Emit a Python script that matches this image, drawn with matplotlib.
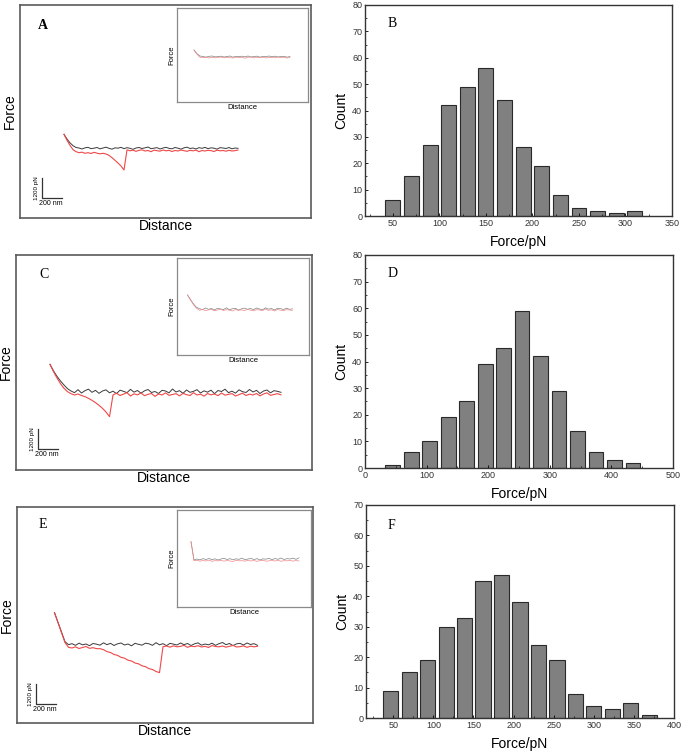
import numpy as np
import matplotlib
matplotlib.use("Agg")
import matplotlib.pyplot as plt
from matplotlib.ticker import MultipleLocator

plt.rcParams['font.family'] = ['Liberation Sans', 'DejaVu Sans']

W, H = 685, 754

# ---- histogram data (bin centre in pN, count) ----
b_centers = [50, 70, 90, 110, 130, 150, 170, 190, 210, 230, 250, 270, 290, 310]
b_counts = [6, 15, 27, 42, 49, 56, 44, 26, 19, 8, 3, 2, 1, 2]
d_centers = [45, 75, 105, 135, 165, 195, 225, 255, 285, 315, 345, 375, 405, 435]
d_counts = [1, 6, 10, 19, 25, 39, 45, 59, 42, 29, 14, 6, 3, 2]
f_centers = [47, 70, 93, 116, 139, 162, 185, 208, 231, 254, 277, 300, 323, 346, 369]
f_counts = [9, 15, 19, 30, 33, 45, 47, 38, 24, 19, 8, 4, 3, 5, 1]

# ---- force curves (force in pN, sampled every step nm) ----
step_a = 30
a_black = [840, 560, 330, 160, 50, 20, -40, 30, 60, -20, 10, 50, -30, 20, 70, 0, -50, 30, 10, 60,
           -20, 40, 0, -60, 20, 50, -10, 30, 80, -20, 10, 40, -40, 20, 60, 0, -30, 50, 10, -50,
           30, 70, -10, 20, -40, 40, 0, 60, -20, 30, 10, -50, 40, 20, -10, 50, -30, 20, 0]
a_red = [840, 480, 180, -80, -200, -260, -230, -300, -260, -310, -240, -290, -330, -300, -340,
         -420, -560, -720, -880, -1060, -1300,
         -90, -150, -110, -180, -120, -90, -160, -130, -200, -110, -140, -170, -100, -150, -120,
         -190, -130, -160, -100, -140, -180, -120, -150, -110, -200, -130, -160, -120, -140, -190,
         -110, -150, -130, -170, -120, -160, -140, -100]

step_c = 35
c_black = [1640, 1250, 920, 640, 400, 180, 40,
           -60, 120, -80, 60, 150, -40, 80, -100, 40, 110, -70, 30, -120, 90, 20, -60, 140, -30, 70, -90,
           50, 130, -50, 10, -110, 80, 40, -70, 160, -20, 60, -100, 100, -40, 20, 120, -80, 50, -30, 90,
           -120, 70, 10, 150, -60, 30, -90, 110, 0, -50, 130, -20, 80, -110, 40, 100, -70, 60, 20, -40]
c_red = [1640, 1200, 820, 480, 200, 0, -120, -200, -140, -230, -300, -400, -520, -660, -820, -1000,
         -1220, -1500,
         -200, -90, -230, -150, -60, -260, -130, -190, -80, -240, -160, -110, -280, -140, -200, -70,
         -220, -170, -120, -250, -100, -180, -230, -60, -200, -150, -270, -110, -190, -140, -240, -80,
         -210, -160, -120, -260, -180, -90, -230, -150, -200, -110, -250, -140, -70, -220, -170, -120, -190]

step_e = 35
e_black = [1900, 1320, 740, 160, -20,
           40, -60, 70, -30, 20, -80, 50, 10, -50, 90, -20, 60, -70, 30, 80, -40, 20, -90, 60, 0,
           -50, 70, 30, -60, 100, -30, 40, -80, 60, 10, -40, 80, -20, 50, -70, 30, 90, -50, 20, -30,
           70, -60, 40, 110, -20, 50, -80, 30, 60, -40, 80, -10, 40, -60]
e_red = [1900, 1300, 700, 100, -180,
         -220, -150, -250, -190, -130, -240, -200, -260,
         -260, -320, -440, -490, -610, -660, -780, -830, -950, -1000, -1120, -1170, -1290, -1340,
         -1460, -1510, -1630, -1700,
         -140, -100, -170, -90, -150, -120, -60, -180, -110, -140, -80, -160, -120, -190, -70, -130,
         -150, -100, -170, -120, -60, -160, -140, -90, -180, -110, -150, -120]

# ---- inset curves (control) ----
step_in = 30
ai_black = [400, 180, 40, 10, -30, 20, 40, -10, 0, 30, -20, 10, 40, -30, 20, 0, 30, -10, 40, -20, 10,
            30, -30, 20, 0, 40, -10, 30, -20, 10, 20, -30, 10]
ai_red = [400, 140, -40, -60, -30, -80, -40, -70, -50, -20, -70, -40, -60, -80, -30, -60, -50, -90, -40,
          -20, -70, -50, -60, -30, -80, -50, -40, -70, -20, -60, -50, -80, -40]
ci_black = [840, 560, 300, 100, 20, -40, 60, -20, 30, -60, 40, 0, -30, 70, -50, 20, 40, -70, 10, 50,
            -20, 30, -40, 60, 0, -50, 70, -10, 30, -60, 40, 20, -30, 50, -20, 10]
ci_red = [840, 540, 260, 40, -80, -20, -100, -50, -30, -110, -60, -10, -90, -40, -70, -120, -30, -80,
          -50, -100, -20, -70, -110, -40, -60, -90, -10, -80, -50, -120, -30, -70, -100, -40, -60, -80]
ei_black = [1100, 0, 60, 10, 80, 30, 90, 20, 70, 0, 60, 100, 30, 80, 10, 70, 40, 110, 20, 60, 90, 30,
            80, 0, 70, 50, 100, 20, 90, 40, 120, 30, 80, 60, 110, 40, 130]
ei_red = [1100, -40, -20, -70, -30, -60, -10, -80, -40, -50, -20, -70, -30, -60, -90, -20, -50, -40,
          -70, -10, -60, -30, -80, -40, -20, -70, -50, -30, -60, -10, -80, -40, -50, -20, -70, -30, -60]

fig = plt.figure(figsize=(W / 100, H / 100), dpi=100)


def box(x0, y0, x1, y1):
    return fig.add_axes([x0 / W, 1 - y1 / H, (x1 - x0) / W, (y1 - y0) / H])


def curve_panel(frame, xlim, ylim, black, red, step, bar, letter, lpos,
                inset, ixlim, iylim, iblack, ired):
    ax = box(*frame)
    x = np.arange(len(black)) * step
    ax.plot(x, black, color='#3a3a3a', lw=0.7)
    x = np.arange(len(red)) * step
    ax.plot(x, red, color='#ee4848', lw=0.8)
    ax.set_xlim(xlim)
    ax.set_ylim(ylim)
    ax.set_xticks([])
    ax.set_yticks([])
    for s in ax.spines.values():
        s.set_color('#5a5a5a')
        s.set_linewidth(1.2)
    ax.set_xlabel('Distance', fontsize=10, labelpad=1)
    ax.set_ylabel('Force', fontsize=10, labelpad=2)
    # scale bar 200 nm x 1200 pN
    bx, by = bar
    ax.plot([bx, bx, bx + 200], [by + 1200, by, by], color='#333333', lw=0.9)
    ax.annotate('1200 pN', (bx, by + 600), xytext=(-2, 0), textcoords='offset points',
                rotation=90, ha='right', va='center', fontsize=4.5)
    ax.annotate('200 nm', (bx, by), xytext=(-2, -1.5), textcoords='offset points',
                ha='left', va='top', fontsize=5)
    ax.text(lpos[0], lpos[1], letter, transform=ax.transAxes, ha='center', va='center',
            fontsize=10, family='Liberation Serif', fontweight='bold' if letter == 'A' else 'normal')

    ia = box(*inset)
    x = np.arange(len(iblack)) * step_in
    ia.plot(x, iblack, color='#808080', lw=0.5)
    x = np.arange(len(ired)) * step_in
    ia.plot(x, ired, color='#f08a8a', lw=0.5)
    ia.set_xlim(ixlim)
    ia.set_ylim(iylim)
    ia.set_xticks([])
    ia.set_yticks([])
    for s in ia.spines.values():
        s.set_color('#8a8a8a')
        s.set_linewidth(0.9)
    ia.set_xlabel('Distance', fontsize=5.5, labelpad=1.5)
    ia.set_ylabel('Force', fontsize=5.5, labelpad=1.5)


def hist_panel(frame, centers, counts, width, xlim, ylim, xmaj, xmin, letter, lpos):
    ax = box(*frame)
    ax.bar(centers, counts, width=width, color='#808080', edgecolor='#2a2a2a', lw=0.8)
    ax.set_xlim(xlim)
    ax.set_ylim(ylim)
    ax.xaxis.set_major_locator(MultipleLocator(xmaj))
    ax.xaxis.set_minor_locator(MultipleLocator(xmin))
    ax.yaxis.set_major_locator(MultipleLocator(10))
    ax.yaxis.set_minor_locator(MultipleLocator(5))
    ax.tick_params(which='both', direction='in', labelsize=6.5, labelcolor='#333333', pad=2)
    ax.tick_params(which='major', length=2.5, width=0.6)
    ax.tick_params(which='minor', length=1.5, width=0.5)
    for s in ax.spines.values():
        s.set_color('#333333')
        s.set_linewidth(1.0)
    ax.set_xlabel('Force/pN', fontsize=10, labelpad=5)
    ax.set_ylabel('Count', fontsize=10, labelpad=3)
    ax.text(lpos[0], lpos[1], letter, transform=ax.transAxes, ha='center', va='center',
            fontsize=10, family='Liberation Serif')


curve_panel((20, 5, 311, 218), (-440, 2470), (-4180, 8600), a_black, a_red, step_a,
            (-220, -3000), 'A', (0.079, 0.906),
            (177, 8, 308, 102), (-170, 1140), (-2720, 2920), ai_black, ai_red)
curve_panel((16, 255, 312, 470), (-340, 2620), (-4700, 8200), c_black, c_red, step_c,
            (-125, -3450), 'C', (0.095, 0.907),
            (177, 258, 309, 355), (-105, 1215), (-2760, 3060), ci_black, ci_red)
curve_panel((17, 507, 313, 723), (-375, 2585), (-4720, 8240), e_black, e_red, step_e,
            (-190, -3600), 'E', (0.088, 0.917),
            (177, 510, 311, 607), (-140, 1200), (-2820, 3000), ei_black, ei_red)

hist_panel((365, 5, 672, 216), b_centers, b_counts, 16, (20, 350), (0, 80), 50, 25, 'B', (0.088, 0.91))
hist_panel((365, 255, 673, 468), d_centers, d_counts, 24, (0, 500), (0, 80), 100, 50, 'D', (0.088, 0.911))
hist_panel((366, 505, 674, 718), f_centers, f_counts, 19, (16, 400), (0, 70), 50, 25, 'F', (0.084, 0.906))

fig.savefig('out.png', dpi=100)
